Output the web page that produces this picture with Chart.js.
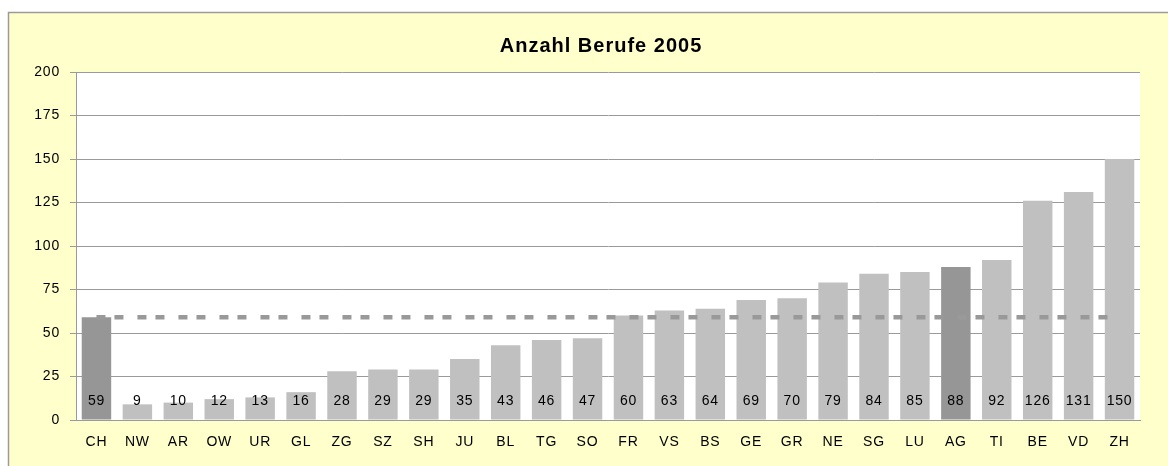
<!DOCTYPE html>
<html>
<head>
<meta charset="utf-8">
<script src="https://cdn.jsdelivr.net/npm/chart.js@4"></script>
<style>
  html, body { margin: 0; padding: 0; background: #ffffff; }
  #wrap { width: 1168px; height: 466px; }
</style>
</head>
<body>
<div id="wrap"><canvas id="barChart" width="1168" height="466"></canvas></div>
<script>
// Kantone und Anzahl Berufe 2005
const cantons = ['CH', 'NW', 'AR', 'OW', 'UR', 'GL', 'ZG', 'SZ', 'SH', 'JU', 'BL', 'TG', 'SO',
                 'FR', 'VS', 'BS', 'GE', 'GR', 'NE', 'SG', 'LU', 'AG', 'TI', 'BE', 'VD', 'ZH'];
const professions = [59, 9, 10, 12, 13, 16, 28, 29, 29, 35, 43, 46, 47,
                     60, 63, 64, 69, 70, 79, 84, 85, 88, 92, 126, 131, 150];
const highlighted = ['CH', 'AG'];
const average = 59;
const yTicks = [0, 25, 50, 75, 100, 125, 150, 175, 200];
const chartTitle = 'Anzahl Berufe 2005';

const FONT = '"Liberation Sans", Arial, sans-serif';

// background, frame, plot area and title
const frame = {
    id: 'frame',
    beforeDraw(chart) {
        const { ctx, chartArea } = chart;
        ctx.save();
        ctx.fillStyle = '#ffffff';
        ctx.fillRect(0, 0, chart.width, chart.height);
        ctx.fillStyle = '#ffffcc';
        ctx.fillRect(8, 12, chart.width, chart.height);
        ctx.strokeStyle = '#9a9a9a';
        ctx.lineWidth = 1.5;
        ctx.beginPath();
        ctx.moveTo(8.5, chart.height + 2);
        ctx.lineTo(8.5, 12.5);
        ctx.lineTo(chart.width + 2, 12.5);
        ctx.stroke();
        ctx.fillStyle = '#ffffff';
        ctx.fillRect(chartArea.left, chartArea.top, chartArea.right - chartArea.left, chartArea.bottom - chartArea.top);
        ctx.fillStyle = '#000000';
        ctx.font = 'bold 20px ' + FONT;
        ctx.letterSpacing = '1px';
        ctx.textAlign = 'center';
        ctx.textBaseline = 'alphabetic';
        ctx.fillText(chartTitle, 601, 52);
        ctx.restore();
        // Excel-like wide text for the axis labels
        ctx.letterSpacing = '0.8px';
    }
};

// values written inside the foot of each bar
const barValues = {
    id: 'barValues',
    afterDatasetsDraw(chart) {
        const { ctx, chartArea } = chart;
        const meta = chart.getDatasetMeta(0);
        ctx.save();
        ctx.fillStyle = '#000000';
        ctx.font = '14px ' + FONT;
        ctx.textAlign = 'center';
        ctx.textBaseline = 'middle';
        meta.data.forEach((bar, i) => {
            ctx.fillText(String(professions[i]), bar.x, chartArea.bottom - 19);
        });
        ctx.restore();
    }
};

const ctx = document.getElementById('barChart').getContext('2d');
new Chart(ctx, {
    data: {
        labels: cantons,
        datasets: [{
            type: 'line',
            label: 'CH',
            data: cantons.map(() => average),
            borderColor: '#999999',
            borderWidth: 4.5,
            borderDash: [9, 9, 9, 14],
            borderCapStyle: 'butt',
            pointRadius: 0,
            fill: false,
            order: 0
        }, {
            type: 'bar',
            label: chartTitle,
            data: professions,
            backgroundColor: cantons.map(c => highlighted.includes(c) ? '#969696' : '#c0c0c0'),
            borderWidth: 0,
            barPercentage: 0.72,
            categoryPercentage: 1,
            order: 1
        }]
    },
    options: {
        responsive: false,
        animation: false,
        layout: { padding: { top: 72, right: 28, bottom: 0, left: 0 } },
        plugins: {
            legend: { display: false },
            title: { display: false },
            tooltip: { enabled: false }
        },
        scales: {
            x: {
                grid: { display: false, drawTicks: false },
                border: { display: true, color: '#9a9a9a', width: 1 },
                ticks: { color: '#000000', font: { family: FONT, size: 14 }, padding: 14, maxRotation: 0, autoSkip: false },
                afterFit(scale) { scale.height = 46; }
            },
            y: {
                min: 0,
                max: 200,
                afterBuildTicks(scale) { scale.ticks = yTicks.map(v => ({ value: v })); },
                grid: { color: '#9a9a9a', lineWidth: 1, tickLength: 6 },
                border: { display: true, color: '#9a9a9a', width: 1 },
                ticks: { color: '#000000', font: { family: FONT, size: 14 }, padding: 10 },
                afterFit(scale) { scale.width = 76; }
            }
        }
    },
    plugins: [frame, barValues]
});
</script>
</body>
</html>
